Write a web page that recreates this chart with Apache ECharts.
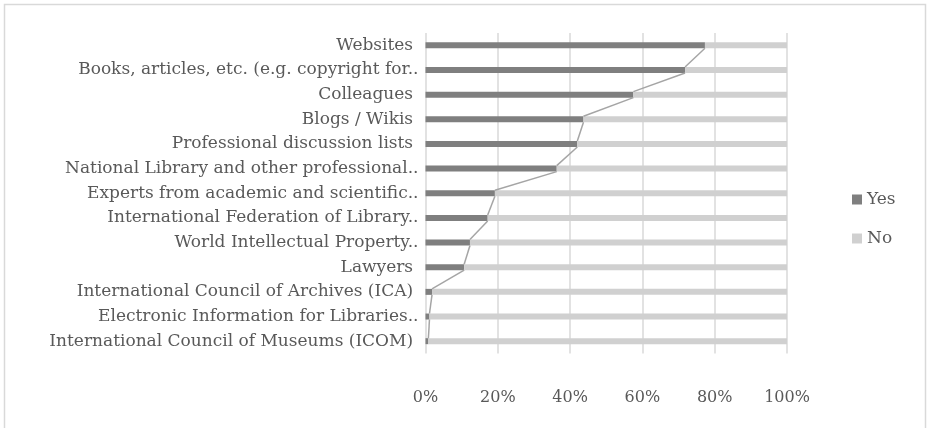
<!DOCTYPE html>
<html>
<head>
<meta charset="utf-8">
<script src="https://cdn.jsdelivr.net/npm/echarts@6/dist/echarts.min.js"></script>
<style>
  html, body { margin: 0; padding: 0; background: #fff; }
  #chart { width: 927px; height: 428px; }
</style>
</head>
<body>
<div id="chart"></div>
<script>
// categories, top to bottom
const categories = [
  'Websites ',
  'Books, articles, etc. (e.g. copyright for..',
  'Colleagues ',
  'Blogs / Wikis ',
  'Professional discussion lists ',
  'National Library and other professional..',
  'Experts from academic and scientific..',
  'International Federation of Library..',
  'World Intellectual Property..',
  'Lawyers ',
  'International Council of Archives (ICA) ',
  'Electronic Information for Libraries..',
  'International Council of Museums (ICOM) '
];
// share of answers, in %
const yesValues = [77.3, 71.8, 57.5, 43.7, 42.0, 36.3, 19.2, 17.2, 12.3, 10.7, 1.8, 1.1, 0.8];
const noValues = [22.7, 28.2, 42.5, 56.3, 58.0, 63.7, 80.8, 82.8, 87.7, 89.3, 98.2, 98.9, 99.2];
const xTicks = [0, 20, 40, 60, 80, 100];

const FONT = 'DejaVu Serif';
const BAR_H = 6;

// series lines: join the end of each Yes bar to the next one
const seriesLineData = yesValues.slice(0, -1).map((v, i) => [i, v, yesValues[i + 1]]);

const chart = echarts.init(document.getElementById('chart'));

chart.setOption({
  animation: false,
  textStyle: { fontFamily: FONT },
  graphic: [{
    type: 'rect',
    shape: { x: 4.5, y: 4.5, width: 921, height: 440 },
    style: { fill: 'none', stroke: '#d9d9d9', lineWidth: 1.5 },
    silent: true
  }],
  grid: { left: 425.5, right: 140, top: 33, bottom: 74.5 },
  legend: {
    orient: 'vertical',
    left: 847,
    top: 186,
    itemWidth: 10,
    itemHeight: 10,
    itemGap: 22,
    icon: 'rect',
    data: ['Yes', 'No'],
    textStyle: { fontFamily: FONT, fontSize: 17, color: '#595959' }
  },
  xAxis: {
    type: 'value',
    min: xTicks[0],
    max: xTicks[xTicks.length - 1],
    interval: 20,
    axisLine: { show: false },
    axisTick: { show: false },
    axisLabel: { formatter: '{value}%', fontFamily: FONT, fontSize: 16, color: '#595959', margin: 36 },
    splitLine: { show: true, lineStyle: { color: '#d9d9d9', width: 1.5 } }
  },
  yAxis: {
    type: 'category',
    inverse: true,
    data: categories,
    axisLine: { show: false },
    axisTick: { show: false },
    axisLabel: { fontFamily: FONT, fontSize: 17, color: '#595959', margin: 7 }
  },
  series: [
    {
      name: 'Yes', type: 'bar', stack: 'total', barWidth: BAR_H,
      itemStyle: { color: '#7f7f7f' },
      data: yesValues
    },
    {
      name: 'No', type: 'bar', stack: 'total', barWidth: BAR_H,
      itemStyle: { color: '#d0d0d0' },
      data: noValues
    },
    {
      name: 'series lines', type: 'custom',
      encode: { x: [1, 2], y: 0 },
      z: 5,
      silent: true,
      renderItem: (params, api) => {
        const p1 = api.coord([api.value(1), api.value(0)]);
        const p2 = api.coord([api.value(2), api.value(0) + 1]);
        return {
          type: 'line',
          shape: { x1: p1[0], y1: p1[1] + BAR_H / 2, x2: p2[0], y2: p2[1] - BAR_H / 2 },
          style: { stroke: '#a5a5a5', lineWidth: 1.5 }
        };
      },
      data: seriesLineData
    }
  ]
});
</script>
</body>
</html>
